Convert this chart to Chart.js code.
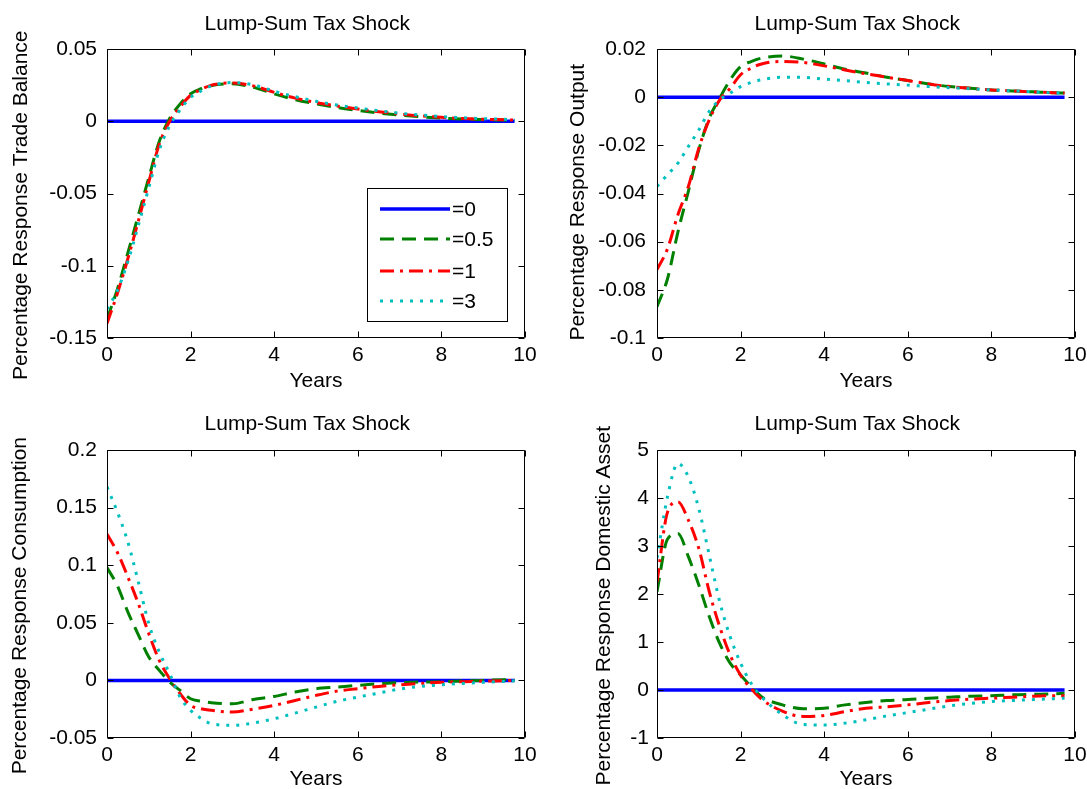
<!DOCTYPE html>
<html>
<head>
<meta charset="utf-8">
<script src="https://cdn.jsdelivr.net/npm/chart.js@4/dist/chart.umd.min.js"></script>
<style>
  html, body { margin: 0; padding: 0; background: #ffffff; width: 1087px; height: 789px; overflow: hidden; }
  canvas { position: absolute; display: block; }
</style>
</head>
<body>
<canvas id="cTrade" width="545" height="395" style="left:0px;top:0px"></canvas>
<canvas id="cOutput" width="542" height="395" style="left:545px;top:0px"></canvas>
<canvas id="cCons" width="545" height="400" style="left:0px;top:395px"></canvas>
<canvas id="cAsset" width="542" height="400" style="left:545px;top:395px"></canvas>
<script>
// ---------------- DATA ----------------
const xYears = [0, 0.25, 0.5, 0.75, 1, 1.25, 1.5, 1.75, 2, 2.25, 2.5, 3, 3.5, 4, 4.5, 5, 5.5, 6, 6.5, 7, 7.5, 8, 8.5, 9, 9.5, 9.75];
const seriesLabels = ['=0', '=0.5', '=1', '=3'];
const panelTitle = 'Lump-Sum Tax Shock';
const xAxisLabel = 'Years';

// phi = 0 : no response
const baseline = [0, 0, 0, 0, 0, 0, 0, 0, 0, 0, 0, 0, 0, 0, 0, 0, 0, 0, 0, 0, 0, 0, 0, 0, 0, 0];

// Trade balance
const tbPhi05 = [-0.137, -0.116, -0.091, -0.065, -0.039, -0.014, 0.002, 0.012, 0.019, 0.0225, 0.0248, 0.026, 0.0235, 0.019, 0.015, 0.012, 0.0095, 0.0075, 0.0057, 0.0043, 0.0031, 0.0022, 0.0015, 0.0011, 0.0008, 0.0006];
const tbPhi1  = [-0.140, -0.119, -0.095, -0.069, -0.042, -0.016, 0.000, 0.010, 0.018, 0.022, 0.025, 0.0265, 0.0245, 0.020, 0.016, 0.013, 0.0105, 0.0085, 0.0066, 0.005, 0.0037, 0.0027, 0.0019, 0.0014, 0.001, 0.0008];
const tbPhi3  = [-0.130, -0.117, -0.097, -0.072, -0.046, -0.020, -0.003, 0.008, 0.0165, 0.021, 0.0245, 0.0268, 0.0252, 0.0208, 0.017, 0.0138, 0.0112, 0.0092, 0.0073, 0.0056, 0.0043, 0.0032, 0.0024, 0.0018, 0.0013, 0.001];

// Output
const opPhi05 = [-0.087, -0.0755, -0.0560, -0.0391, -0.0219, -0.0087, -0.0004, 0.0072, 0.0127, 0.0148, 0.0162, 0.0171, 0.0158, 0.0138, 0.0116, 0.0100, 0.0083, 0.0069, 0.0055, 0.0044, 0.0037, 0.0030, 0.0026, 0.0022, 0.0018, 0.0017];
const opPhi1  = [-0.0716, -0.0630, -0.0488, -0.0371, -0.0212, -0.0094, -0.0011, 0.0037, 0.0093, 0.0120, 0.0138, 0.0148, 0.0144, 0.0130, 0.0113, 0.0097, 0.0083, 0.0069, 0.0055, 0.0044, 0.0037, 0.0030, 0.0026, 0.0022, 0.0018, 0.0017];
const opPhi3  = [-0.0371, -0.0322, -0.0274, -0.0205, -0.0136, -0.0059, -0.0011, 0.0017, 0.0044, 0.0061, 0.0072, 0.0083, 0.0082, 0.0075, 0.0069, 0.0061, 0.0055, 0.0050, 0.0044, 0.0039, 0.0035, 0.0030, 0.0026, 0.0022, 0.0018, 0.0017];

// Consumption
const csPhi05 = [0.098, 0.082, 0.0593, 0.0396, 0.0203, 0.0087, -0.0014, -0.0087, -0.0159, -0.0180, -0.0194, -0.0203, -0.0165, -0.0139, -0.0101, -0.0072, -0.0058, -0.0043, -0.0029, -0.0020, -0.0014, -0.0012, -0.0006, 0.0000, 0.0006, 0.0006];
const csPhi1  = [0.127, 0.111, 0.0897, 0.0666, 0.0405, 0.0174, 0.0014, -0.0116, -0.0217, -0.0246, -0.0260, -0.0275, -0.0249, -0.0217, -0.0174, -0.0130, -0.0093, -0.0072, -0.0052, -0.0038, -0.0026, -0.0017, -0.0012, -0.0006, -0.0003, 0.0000];
const csPhi3  = [0.168, 0.146, 0.120, 0.0854, 0.0492, 0.0246, 0.0058, -0.0145, -0.0260, -0.0330, -0.0376, -0.0390, -0.0370, -0.0333, -0.0284, -0.0232, -0.0182, -0.0145, -0.0110, -0.0075, -0.0052, -0.0038, -0.0026, -0.0017, -0.0009, -0.0003];

// Domestic asset
const daPhi05 = [2.05, 3.14, 3.26, 2.78, 2.19, 1.53, 0.97, 0.56, 0.31, 0.07, -0.14, -0.31, -0.39, -0.38, -0.31, -0.26, -0.22, -0.20, -0.17, -0.15, -0.13, -0.12, -0.10, -0.09, -0.08, -0.07];
const daPhi1  = [2.25, 3.70, 3.92, 3.54, 2.95, 2.05, 1.32, 0.73, 0.31, 0.03, -0.19, -0.44, -0.55, -0.53, -0.45, -0.38, -0.35, -0.31, -0.26, -0.22, -0.19, -0.17, -0.15, -0.13, -0.12, -0.12];
const daPhi3  = [2.75, 4.02, 4.72, 4.44, 3.78, 2.81, 1.84, 1.11, 0.56, 0.14, -0.14, -0.51, -0.72, -0.73, -0.69, -0.62, -0.54, -0.47, -0.40, -0.33, -0.28, -0.24, -0.22, -0.20, -0.18, -0.17];

// Tick labels
const xTickValues = [0, 2, 4, 6, 8, 10];
const xTickLabels = ['0', '2', '4', '6', '8', '10'];
const tbTickValues = [-0.15, -0.1, -0.05, 0, 0.05];
const tbTickLabels = ['-0.15', '-0.1', '-0.05', '0', '0.05'];
const opTickValues = [-0.1, -0.08, -0.06, -0.04, -0.02, 0, 0.02];
const opTickLabels = ['-0.1', '-0.08', '-0.06', '-0.04', '-0.02', '0', '0.02'];
const csTickValues = [-0.05, 0, 0.05, 0.1, 0.15, 0.2];
const csTickLabels = ['-0.05', '0', '0.05', '0.1', '0.15', '0.2'];
const daTickValues = [-1, 0, 1, 2, 3, 4, 5];
const daTickLabels = ['-1', '0', '1', '2', '3', '4', '5'];

// ---------------- STYLE ----------------
const FONT_FAMILY = "'Liberation Sans', Arial, Helvetica, sans-serif";
const FS = 21, LH = 1.2;
const lineStyles = [
  { color: '#0000ff', width: 3.5, dash: [] },
  { color: '#008000', width: 3, dash: [14, 8] },
  { color: '#ff0000', width: 3, dash: [14, 6, 3, 6] },
  { color: '#00bfbf', width: 3, dash: [3, 7] }
];

const axesFrame = {
  id: 'axesFrame',
  afterDatasetsDraw(chart) {
    const { ctx, chartArea: a, scales } = chart;
    ctx.save();
    ctx.strokeStyle = '#000';
    ctx.lineWidth = 1;
    ctx.setLineDash([]);
    const L = Math.round(a.left) + 0.5, R = Math.round(a.right) - 0.5;
    const T = Math.round(a.top) + 0.5, B = Math.round(a.bottom) - 0.5;
    ctx.beginPath();
    ctx.rect(L, T, R - L, B - T);
    const tl = 6;
    scales.x.ticks.forEach(t => {
      const px = Math.round(scales.x.getPixelForValue(t.value)) + 0.5;
      ctx.moveTo(px, B); ctx.lineTo(px, B - tl);
      ctx.moveTo(px, T); ctx.lineTo(px, T + tl);
    });
    scales.y.ticks.forEach(t => {
      const py = Math.round(scales.y.getPixelForValue(t.value)) + 0.5;
      ctx.moveTo(L, py); ctx.lineTo(L + tl, py);
      ctx.moveTo(R, py); ctx.lineTo(R - tl, py);
    });
    ctx.stroke();
    ctx.restore();
  }
};

const frameLegend = {
  id: 'frameLegend',
  afterDatasetsDraw(chart, args, opts) {
    if (!opts || !opts.show) return;
    const { ctx, chartArea: a } = chart;
    const bx = Math.round(a.right + opts.dx), by = Math.round(a.top + opts.dy);
    ctx.save();
    ctx.fillStyle = '#fff';
    ctx.fillRect(bx, by, opts.w, opts.h);
    ctx.strokeStyle = '#000';
    ctx.lineWidth = 1;
    ctx.setLineDash([]);
    ctx.strokeRect(bx + 0.5, by + 0.5, opts.w, opts.h);
    ctx.font = FS + 'px ' + FONT_FAMILY;
    ctx.textBaseline = 'middle';
    ctx.textAlign = 'left';
    chart.data.datasets.forEach((ds, k) => {
      const yy = by + opts.rows[k];
      ctx.beginPath();
      ctx.setLineDash(ds.borderDash || []);
      ctx.strokeStyle = ds.borderColor;
      ctx.lineWidth = ds.borderWidth;
      ctx.moveTo(bx + 13, yy);
      ctx.lineTo(bx + 83, yy);
      ctx.stroke();
      ctx.setLineDash([]);
      ctx.fillStyle = '#000';
      ctx.fillText(ds.label, bx + 85, yy + 1);
    });
    ctx.restore();
  }
};

function makePanel(id, p) {
  const canvas = document.getElementById(id);
  const W = canvas.width, H = canvas.height;
  const lh = FS * LH;
  const font = { family: FONT_FAMILY, size: FS, weight: 'normal', lineHeight: LH };
  const titleTop = p.titleY - lh / 2;
  return new Chart(canvas, {
    type: 'line',
    data: {
      datasets: p.series.map((s, k) => ({
        label: seriesLabels[k],
        data: xYears.map((x, i) => ({ x: x, y: s[i] })),
        borderColor: lineStyles[k].color,
        backgroundColor: lineStyles[k].color,
        borderWidth: lineStyles[k].width,
        borderDash: lineStyles[k].dash,
        borderCapStyle: 'butt',
        pointRadius: 0,
        fill: false,
        cubicInterpolationMode: 'monotone',
        order: 4 - k
      }))
    },
    options: {
      responsive: false,
      animation: false,
      devicePixelRatio: 1,
      events: [],
      layout: { padding: { left: 0, top: 0, right: W - p.area.r, bottom: 0 } },
      plugins: {
        legend: { display: false },
        tooltip: { enabled: false },
        title: {
          display: true, fullSize: false, text: p.title, color: '#000', font: font,
          padding: { top: titleTop, bottom: p.area.t - titleTop - lh }
        },
        frameLegend: p.legend || { show: false }
      },
      scales: {
        x: {
          type: 'linear', min: 0, max: 10,
          grid: { display: false, drawTicks: false },
          border: { display: false },
          afterBuildTicks: s => { s.ticks = xTickValues.map(v => ({ value: v })); },
          afterFit: s => { s.height = H - p.area.b; s.paddingLeft = 0; s.paddingRight = 0; },
          ticks: { autoSkip: false, maxRotation: 0, minRotation: 0, padding: 5, color: '#000', font: font,
                   callback: (v, i) => xTickLabels[i] },
          title: { display: true, text: xAxisLabel, color: '#000', font: font,
                   padding: { top: 0, bottom: H - p.xTitleY - lh / 2 } }
        },
        y: {
          type: 'linear', min: p.yTicks[0], max: p.yTicks[p.yTicks.length - 1],
          grid: { display: false, drawTicks: false },
          border: { display: false },
          afterBuildTicks: s => { s.ticks = p.yTicks.map(v => ({ value: v })); },
          afterFit: s => { s.width = p.area.l; s.paddingTop = 0; s.paddingBottom = 0; },
          ticks: { autoSkip: false, padding: p.yTickPad, color: '#000', font: font,
                   callback: (v, i) => p.yTickLabels[i] },
          title: { display: true, text: p.yLabel, color: '#000', font: font,
                   padding: { top: p.yTitleX - lh / 2, bottom: 0 } }
        }
      }
    },
    plugins: [axesFrame, frameLegend]
  });
}

makePanel('cTrade', {
  series: [baseline, tbPhi05, tbPhi1, tbPhi3],
  area: { l: 107, r: 525, t: 49, b: 338 },
  title: panelTitle + '   ', titleY: 24, xTitleY: 381,
  yLabel: 'Percentage Response Trade Balance' + '    ', yTitleX: 21, yTickPad: 10,
  yTicks: tbTickValues, yTickLabels: tbTickLabels,
  legend: { show: true, dx: -158, dy: 139, w: 140, h: 133, rows: [21, 51, 83, 113] }
});
makePanel('cOutput', {
  series: [baseline, opPhi05, opPhi1, opPhi3],
  area: { l: 112, r: 530, t: 49, b: 338 },
  title: panelTitle + '   ', titleY: 24, xTitleY: 381,
  yLabel: 'Percentage Response Output' + '   ', yTitleX: 33, yTickPad: 11,
  yTicks: opTickValues, yTickLabels: opTickLabels
});
makePanel('cCons', {
  series: [baseline, csPhi05, csPhi1, csPhi3],
  area: { l: 107, r: 525, t: 55, b: 343 },
  title: panelTitle + '   ', titleY: 29, xTitleY: 384,
  yLabel: 'Percentage Response Consumption' + '    ', yTitleX: 20, yTickPad: 10,
  yTicks: csTickValues, yTickLabels: csTickLabels
});
makePanel('cAsset', {
  series: [baseline, daPhi05, daPhi1, daPhi3],
  area: { l: 112, r: 530, t: 55, b: 343 },
  title: panelTitle + '   ', titleY: 29, xTitleY: 384,
  yLabel: 'Percentage Response Domestic Asset' + '    ', yTitleX: 59, yTickPad: 8,
  yTicks: daTickValues, yTickLabels: daTickLabels
});
</script>
</body>
</html>
